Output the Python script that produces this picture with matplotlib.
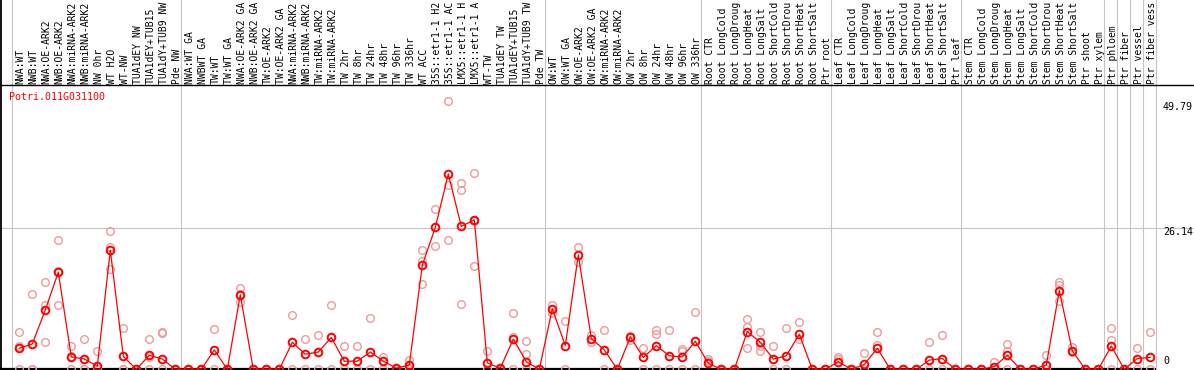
import numpy as np
import matplotlib
matplotlib.use("Agg")
import matplotlib.pyplot as plt

gene = "Potri.011G031100"

group_sizes = [13, 28, 12, 10, 10, 11, 1, 1, 1, 1]

labels = [
    "NWA:WT", "NWB:WT", "NWA:OE-ARK2", "NWB:OE-ARK2", "NWA:miRNA-ARK2", "NWB:miRNA-ARK2",
    "NW 0hr", "WT H2O", "WT-NW", "TUA1dEY NW", "TUA1dEY+TUB15", "TUA1dY+TUB9 NW", "Pde NW",
    "NWA:WT GA", "NWBWT GA", "TW:WT", "TW:WT GA", "NWA:OE-ARK2 GA", "NWB:OE-ARK2 GA",
    "TW:OE-ARK2", "TW:OE-ARK2 GA", "NWA:miRNA-ARK2", "NWB:miRNA-ARK2", "TW:miRNA-ARK2",
    "TW:miRNA-ARK2", "TW 2hr", "TW 8hr", "TW 24hr", "TW 48hr", "TW 96hr", "TW 336hr",
    "WT ACC", "35S::etr1-1 H2", "35S::etr1-1 AC", "LMX5::etr1-1 H", "LMX5::etr1-1 A",
    "WT-TW", "TUA1dEY TW", "TUA1dEY+TUB15", "TUA1dY+TUB9 TW", "Pde TW",
    "OW:WT", "OW:WT GA", "OW:OE-ARK2", "OW:OE-ARK2 GA", "OW:miRNA-ARK2", "OW:miRNA-ARK2",
    "OW 2hr", "OW 8hr", "OW 24hr", "OW 48hr", "OW 96hr", "OW 336hr",
    "Root CTR", "Root LongCold", "Root LongDroug", "Root LongHeat", "Root LongSalt",
    "Root ShortCold", "Root ShortDrou", "Root ShortHeat", "Root ShortSalt", "Ptr root",
    "Leaf CTR", "Leaf LongCold", "Leaf LongDroug", "Leaf LongHeat", "Leaf LongSalt",
    "Leaf ShortCold", "Leaf ShortDrou", "Leaf ShortHeat", "Leaf ShortSalt", "Ptr leaf",
    "Stem CTR", "Stem LongCold", "Stem LongDroug", "Stem LongHeat", "Stem LongSalt",
    "Stem ShortCold", "Stem ShortDrou", "Stem ShortHeat", "Stem ShortSalt", "Ptr shoot",
    "Ptr xylem", "Ptr phloem", "Ptr fiber", "Ptr vessel", "Ptr fiber vess",
]

means = [
    3.9, 4.7, 11.0, 18.0, 2.3, 1.9, 0.6, 22.1, 2.4, 0, 2.6, 1.9, 0,
    0, 0, 3.6, 0, 13.8, 0, 0, 0, 5.0, 2.8, 3.2, 5.9, 1.5, 1.5, 3.2, 1.5, 0.2, 0.8,
    19.3, 26.3, 36.2, 26.5, 27.7, 1.2, 0.2, 5.6, 1.4, 0,
    11.2, 4.4, 21.2, 5.7, 3.6, 0, 6.0, 2.2, 4.4, 2.5, 2.3, 5.2,
    1.1, 0, 0, 7.0, 5.0, 1.9, 2.5, 6.5, 0, 0,
    1.4, 0, 0.9, 3.9, 0, 0, 0, 1.7, 2.0, 0,
    0, 0, 0.5, 2.6, 0, 0, 0.8, 14.6, 3.4, 0, 0,
    4.3, 0, 2.0, 2.2,
]

nan = np.nan
rep_a = [
    6.9, 14.0, 16.1, 23.9, 4.4, 5.7, 3.4, 25.6, 7.6, 0, 5.6, 6.9, 0,
    0, 0, 7.5, 0, 15.0, 0, 0, 0, 10.0, 5.6, 6.3, 11.9, 4.4, 4.4, 9.5, 2.3, 0, 1.7,
    22.1, 29.8, 49.79, 34.5, 36.4, 3.4, 0, 10.4, 5.2, 0,
    11.9, 9.0, 22.7, 6.4, 7.3, 0, 5.4, 3.9, 7.2, 7.3, 3.8, 10.6,
    2.0, 0, 0, 9.3, 6.9, 4.3, 7.7, 8.8, 0, 0,
    2.3, 0, 3.0, 7.0, 0, 0, 0, 5.0, 6.3, 0,
    0, 0, 1.4, 4.6, 0, 0, 2.6, 16.1, 4.1, 0, 0,
    7.6, 0, 3.9, 6.9,
]
rep_b = [
    4.3, 0, 11.9, 11.9, 2.5, 0, 0, 22.6, 0, 0, 2.2, 6.7, 0,
    0, 0, 0, 0, 12.4, 0, 0, 0, 0, 0, 0, 0, 0, 0, 0, 0, 0, 0,
    20.1, 22.8, 34.2, 33.2, 19.2, 0, 0, 6.0, 2.8, 0,
    10.4, 0, 19.8, 5.0, 0, 0, 6.2, 0, 6.5, 0, 3.3, 0,
    1.6, 0, 0, 7.9, 3.4, 0, 0, 5.6, 0, 0,
    1.9, 0, 0, 4.5, 0, 0, 0, 0, 0, 0,
    0, 0, 0, 3.4, 0, 0, 0, 15.7, 3.2, 0, 0,
    5.4, 0, 0, 0,
]
rep_c = [
    0, 0, 5.0, 18.2, 0, 0, 0, 18.6, 0, 0, 0, 0, 0,
    0, 0, nan, 0, 14.0, 0, 0, 0, nan, nan, nan, nan, nan, nan, nan, nan, nan, nan,
    15.8, nan, 23.9, 12.1, 27.5, nan, nan, 0, 0, 0,
    nan, nan, nan, nan, nan, 0, nan, nan, 0, nan, 0, nan,
    nan, 0, 0, 3.9, 4.4, nan, nan, nan, 0, 0,
    nan, 0, nan, nan, 0, 0, 0, nan, nan, 0,
    0, 0, nan, 0, 0, 0, nan, 12.7, nan, 0, 0,
    0, 0, nan, nan,
]

ytick_vals = [0, 26.14, 49.79]
ytick_text = ["0", "26.14", "49.79"]

# ---------------------------------------------------------------
W, H = 1194, 370
fig = plt.figure(figsize=(W / 100, H / 100), dpi=100)
ax = fig.add_axes([0, 0, 1, 1])
ax.set_axis_off()

x0_px, step_px = 19.3, 13.0
zero_px, unit_px = 369.3, 5.394  # y pixel of value 0 from top, px per unit

def kx(px):
    return (px - x0_px) / step_px

def vy(py_top):
    return (zero_px - py_top) / unit_px

ax.set_xlim(kx(0), kx(W))
ax.set_ylim(vy(H), vy(0))

n = len(means)
x = np.arange(n)
mono = "DejaVu Sans Mono"

# group separators
bounds = np.concatenate([[0], np.cumsum(group_sizes)])
for b in bounds:
    ax.axvline(b - 0.58, color="#c4c4c4", lw=0.8, zorder=1)

# frame lines
ax.axvline(kx(1.2), color="black", lw=1.3, zorder=2)
ax.axhline(vy(85), color="black", lw=1.0, zorder=2)
ax.axhline(26.14, color="#c4c4c4", lw=0.8, zorder=1)
ax.hlines(0, kx(0), n - 0.58, color="black", lw=1.6, zorder=2)

# replicates
for reps in (rep_a, rep_b, rep_c):
    ax.plot(x, reps, ls="none", marker="o", ms=5.5, mfc="none",
            mec="#ee9a9a", mew=1.0, zorder=3, clip_on=False)

# means
ax.plot(x, means, color="red", lw=0.9, marker="o", ms=5.5, mfc="none",
        mec="red", mew=1.4, zorder=4, clip_on=False)

# sample labels
for i, lab in enumerate(labels):
    ax.text(i + 0.12, vy(83.5), lab, rotation=90, ha="center", va="bottom",
            family=mono, fontsize=7.0, color="black", zorder=5)

# gene name
ax.text(kx(9.3), vy(92), gene, ha="left", va="top", family=mono,
        fontsize=7.2, color="red", zorder=5)

# y value labels
ax.text(kx(1163), vy(101.5), ytick_text[2], ha="left", va="top", family=mono,
        fontsize=7.2, color="black")
ax.text(kx(1163), vy(227), ytick_text[1], ha="left", va="top", family=mono,
        fontsize=7.2, color="black")
ax.text(kx(1163), vy(366), ytick_text[0], ha="left", va="bottom", family=mono,
        fontsize=7.2, color="black")

fig.savefig("out.png", dpi=100)
